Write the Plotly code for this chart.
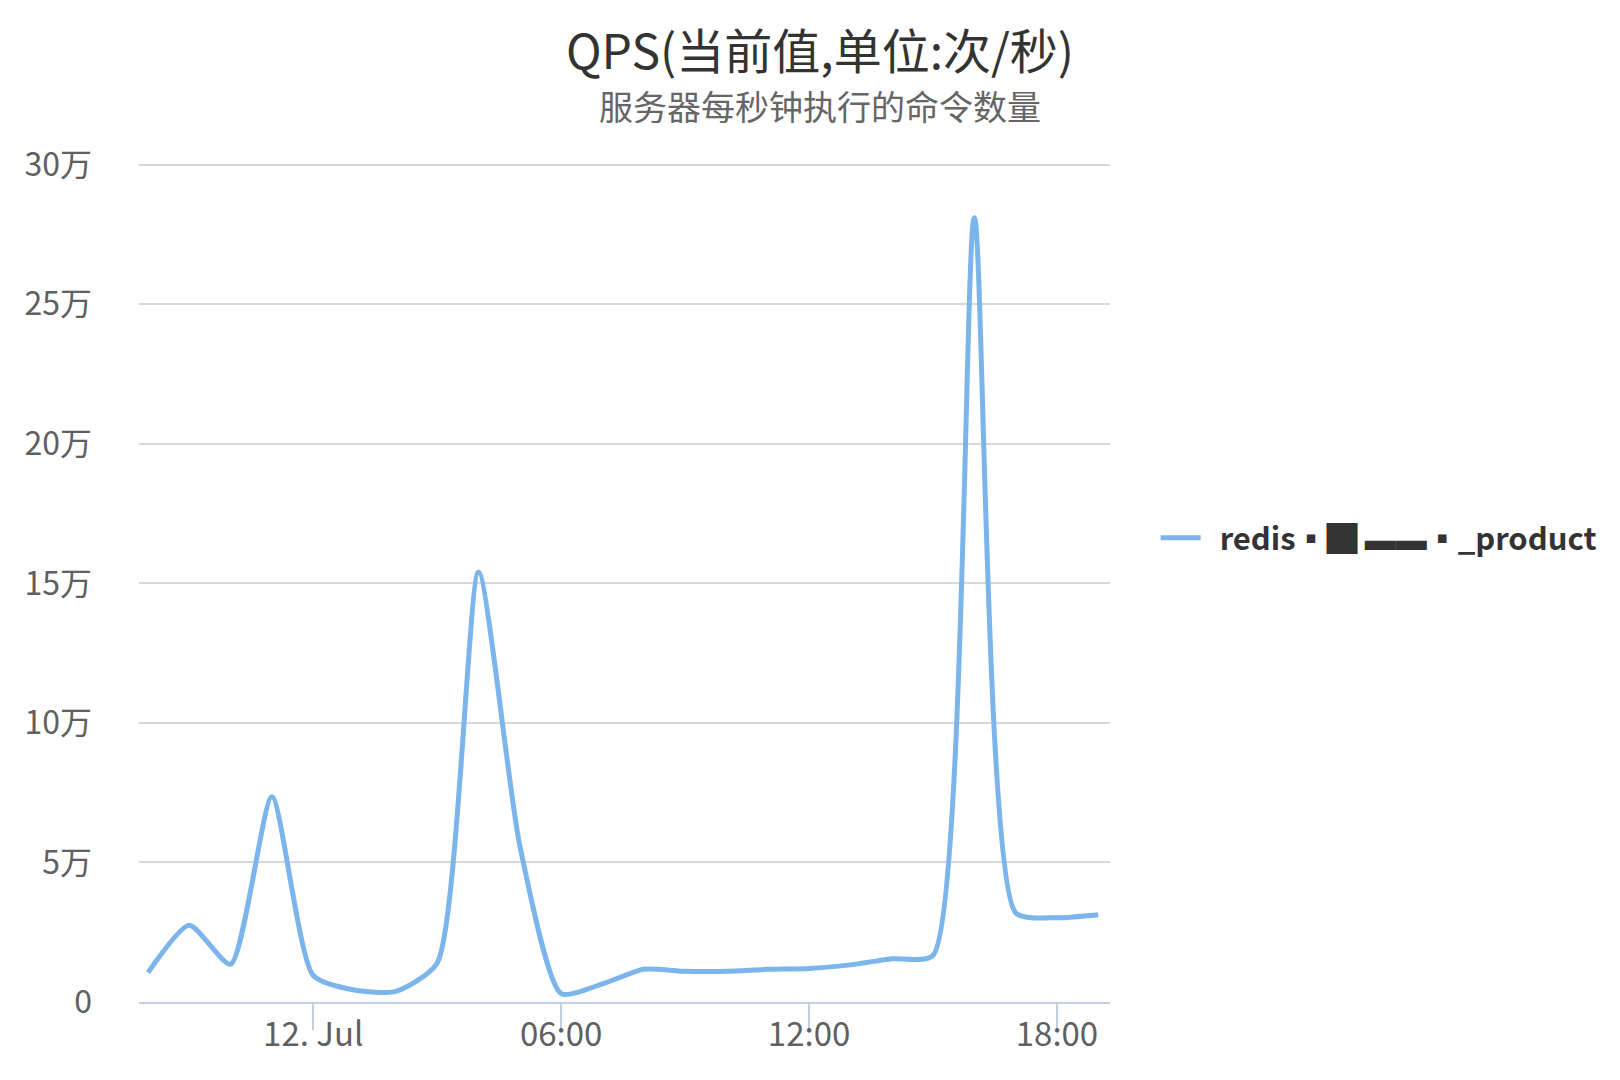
import plotly.graph_objects as go

# hourly samples, Jul 11 20:00 -> Jul 12 19:00
times = [
    "2016-07-11 20:00", "2016-07-11 21:00", "2016-07-11 22:00", "2016-07-11 23:00",
    "2016-07-12 00:00", "2016-07-12 01:00", "2016-07-12 02:00", "2016-07-12 03:00",
    "2016-07-12 04:00", "2016-07-12 05:00", "2016-07-12 06:00", "2016-07-12 07:00",
    "2016-07-12 08:00", "2016-07-12 09:00", "2016-07-12 10:00", "2016-07-12 11:00",
    "2016-07-12 12:00", "2016-07-12 13:00", "2016-07-12 14:00", "2016-07-12 15:00",
    "2016-07-12 16:00", "2016-07-12 17:00", "2016-07-12 18:00", "2016-07-12 19:00",
]
qps = [
    10500, 27500, 13500, 73500,
    9500, 4300, 3800, 14000,
    154000, 56000, 3000, 6500,
    11700, 11000, 11000, 11700,
    12000, 13300, 15500, 16700,
    281000, 32000, 30200, 31300,
]
series_name = "  redis▪█ ▬▬▪_product"

title_text = "QPS(当前值,单位:次/秒)"
subtitle_text = "服务器每秒钟执行的命令数量"

y_ticks = [0, 50000, 100000, 150000, 200000, 250000, 300000]
y_labels = ["0", "5万", "10万", "15万", "20万", "25万", "30万"]
x_ticks = ["2016-07-12 00:00", "2016-07-12 06:00", "2016-07-12 12:00", "2016-07-12 18:00"]
x_labels = ["12. Jul", "06:00", "12:00", "18:00"]

font = "Noto Sans CJK SC"

fig = go.Figure()
fig.add_trace(go.Scatter(
    x=times, y=qps, mode="lines", name=series_name,
    line=dict(color="#7cb5ec", width=5, shape="spline", smoothing=0.62),
))

fig.add_annotation(
    text=title_text, xref="paper", yref="paper", x=0.701, y=1.137,
    xanchor="center", yanchor="middle", showarrow=False,
    font=dict(size=48, color="#333333", family=font),
)
fig.add_annotation(
    text=subtitle_text, xref="paper", yref="paper", x=0.701, y=1.068,
    xanchor="center", yanchor="middle", showarrow=False,
    font=dict(size=34, color="#666666", family=font),
)

fig.update_layout(
    width=1620, height=1080,
    paper_bgcolor="white", plot_bgcolor="white",
    margin=dict(l=131, r=518, t=155, b=86),
    font=dict(family=font, color="#606060"),
    showlegend=True,
    legend=dict(
        x=1.047, xanchor="left", y=0.553, yanchor="middle",
        font=dict(size=31, color="#333333", family=font, weight="bold"),
        itemwidth=40, bgcolor="rgba(0,0,0,0)",
    ),
)

fig.update_xaxes(
    type="date",
    range=["2016-07-11 19:47", "2016-07-12 19:17"],
    tickvals=x_ticks, ticktext=x_labels,
    showgrid=False, showline=True, linecolor="#C0D0E0", linewidth=2,
    ticks="outside", ticklen=26, tickwidth=2, tickcolor="#C0D0E0",
    tickfont=dict(size=33, color="#606060"),
    ticklabelstandoff=-24,
    zeroline=False,
)
fig.update_yaxes(
    range=[0, 300600],
    tickvals=y_ticks, ticktext=y_labels,
    showgrid=True, gridcolor="#D8D8D8", gridwidth=2,
    zeroline=False, showline=False,
    tickfont=dict(size=32, color="#606060"),
    ticklabelstandoff=46,
)

fig.write_html("out.html")
